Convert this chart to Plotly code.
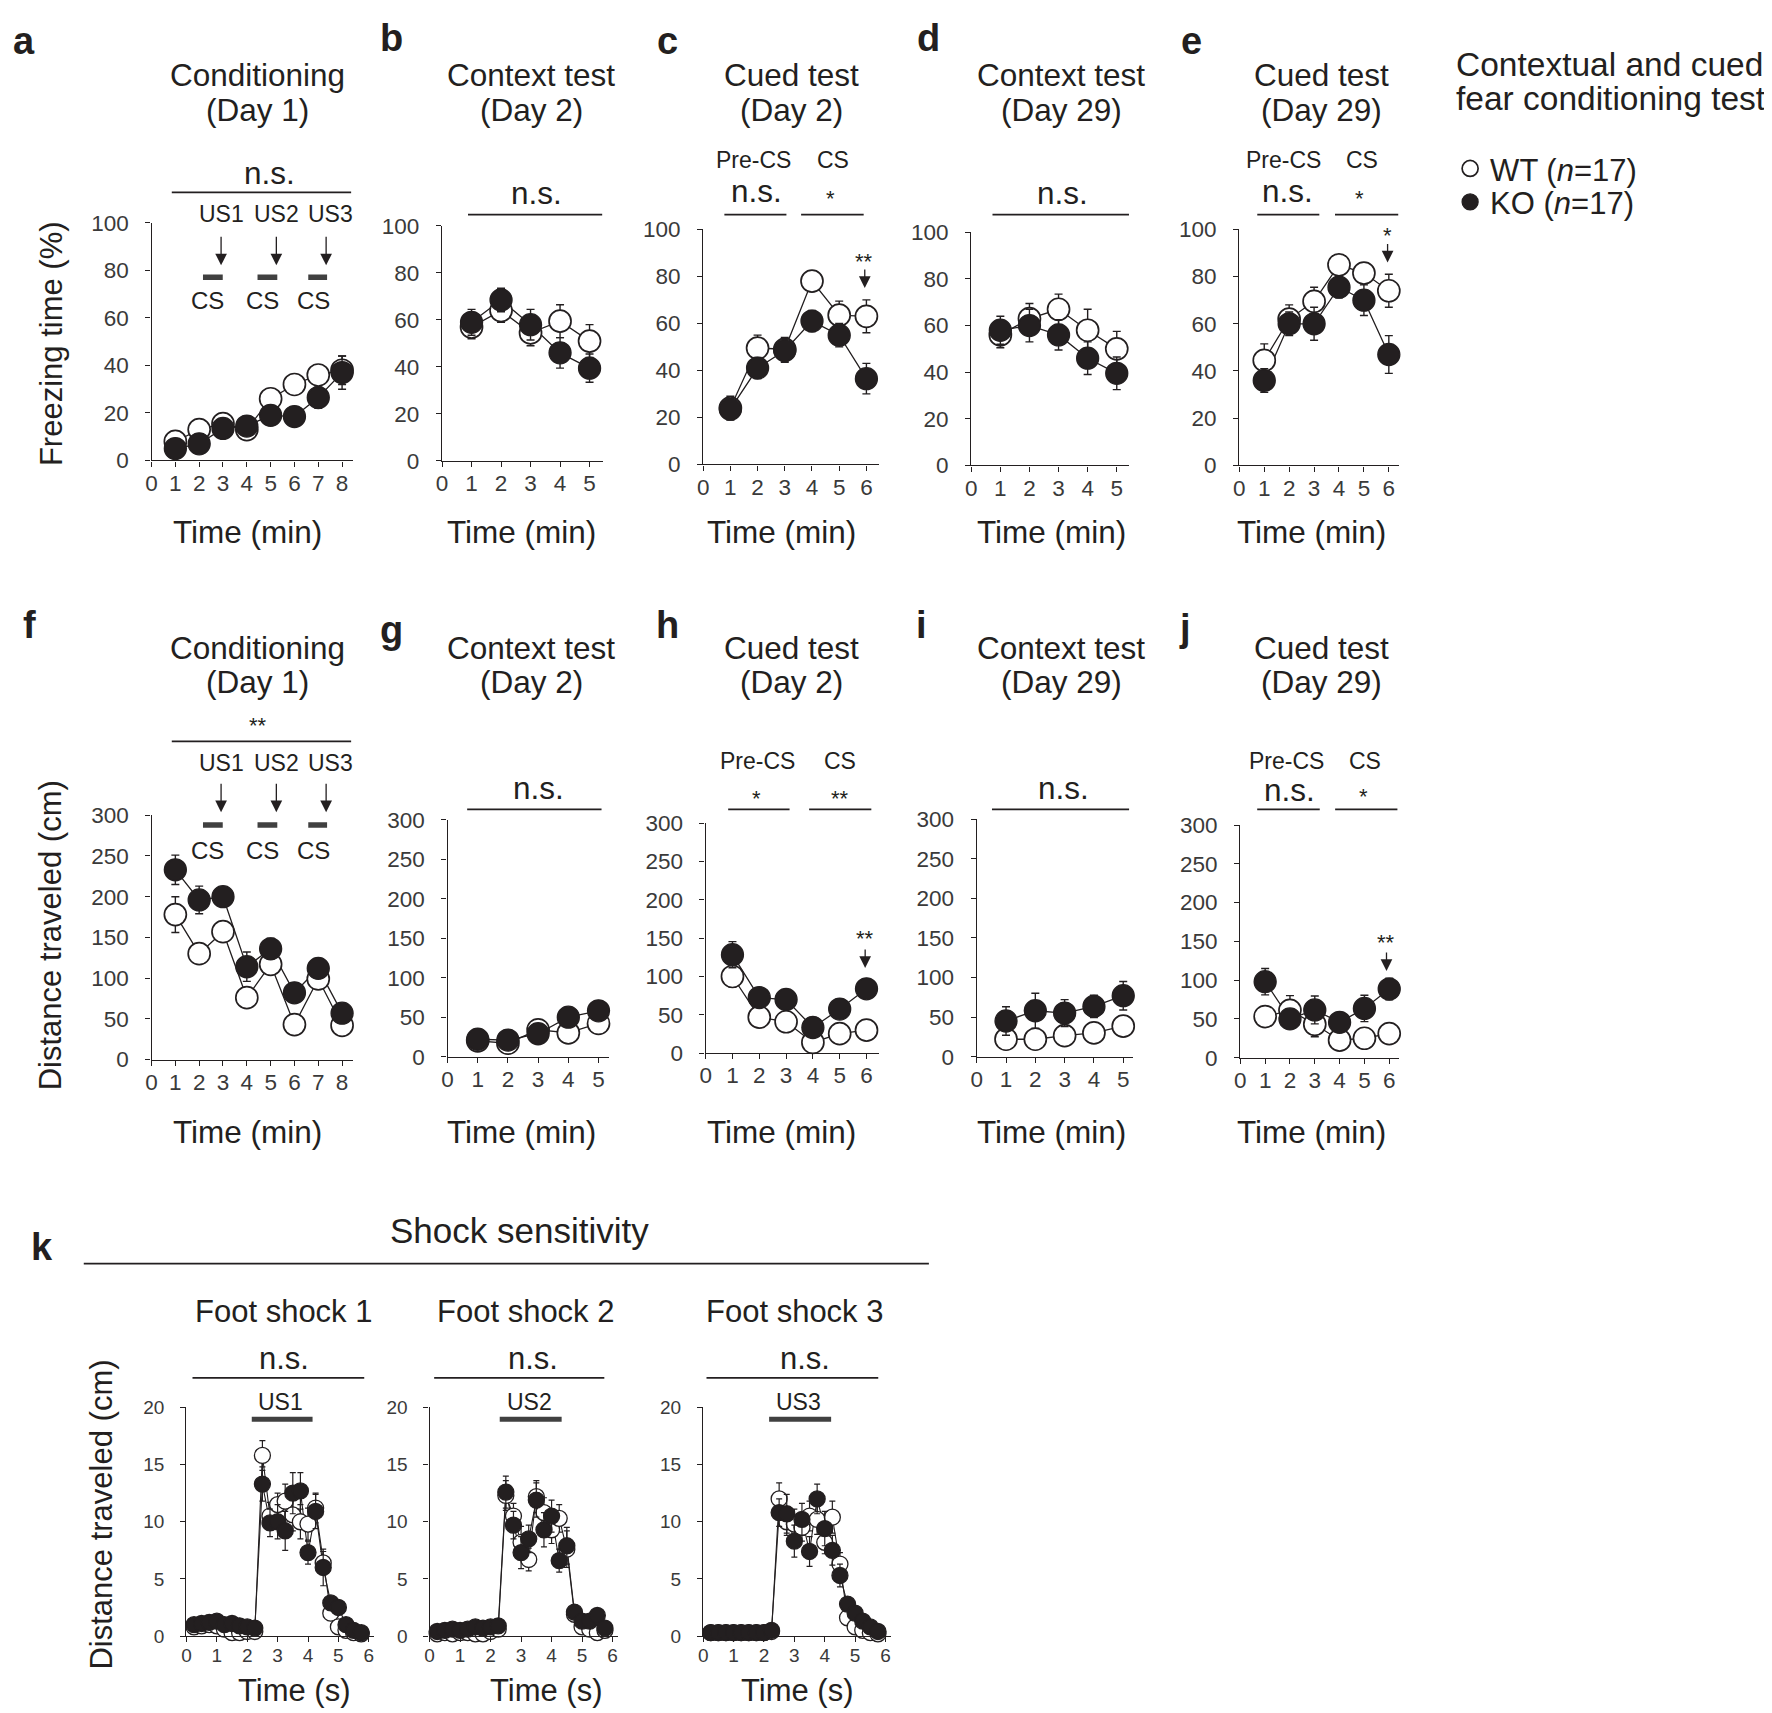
import plotly.graph_objects as go

W, H = 1772, 1713
INK = "#231f20"
TICK_INK = "#3a3a3a"
FONT = "Liberation Sans, Arial, Helvetica, sans-serif"

# ---------------- data ----------------
min_8 = [1, 2, 3, 4, 5, 6, 7, 8]
min_5 = [1, 2, 3, 4, 5]
min_6 = [1, 2, 3, 4, 5, 6]
sec_bins = [0.25, 0.5, 0.75, 1.0, 1.25, 1.5, 1.75, 2.0, 2.25, 2.5, 2.75, 3.0,
            3.25, 3.5, 3.75, 4.0, 4.25, 4.5, 4.75, 5.0, 5.25, 5.5, 5.75]

# a  Freezing, conditioning (Day 1)
frz_cond_wt = [8, 13, 15.5, 13, 26, 32, 36, 38]
frz_cond_wt_sem = [3, 2, 2, 2, 2.5, 3.5, 4, 6]
frz_cond_ko = [5, 7, 13.5, 14.5, 19, 18.5, 26.5, 37]
frz_cond_ko_sem = [2, 2, 2.5, 3.5, 2, 2, 4.5, 7]
# b  Freezing, context test (Day 2)
frz_ctx2_wt = [57, 64, 54.5, 59.5, 51]
frz_ctx2_wt_sem = [5, 5, 5.5, 7, 7]
frz_ctx2_ko = [59, 68.5, 58, 46, 39.5]
frz_ctx2_ko_sem = [5.5, 5, 6.5, 6.5, 6]
# c  Freezing, cued test (Day 2)
frz_cue2_wt = [24, 49.5, 49, 78, 63.5, 63]
frz_cue2_wt_sem = [5, 5.5, 5, 4, 6, 7]
frz_cue2_ko = [23.5, 41, 48.5, 61, 55, 36.5]
frz_cue2_ko_sem = [4.5, 4.5, 5, 4.5, 5, 6.5]
# d  Freezing, context test (Day 29)
frz_ctx29_wt = [56, 63, 67, 58, 50]
frz_ctx29_wt_sem = [5.5, 6.5, 6.5, 9, 7.5]
frz_ctx29_ko = [58, 60, 56, 46, 39.5]
frz_ctx29_ko_sem = [6, 7, 6.5, 7, 7]
# e  Freezing, cued test (Day 29)
frz_cue29_wt = [44.5, 62, 69.5, 85, 81.5, 74]
frz_cue29_wt_sem = [7, 6, 6, 3, 3.5, 7]
frz_cue29_ko = [36, 60, 60, 75.5, 70, 47]
frz_cue29_ko_sem = [5, 5, 7, 4.5, 6.5, 8]
# f  Distance, conditioning (Day 1)
dst_cond_wt = [178, 130, 157, 76, 117, 43, 99, 42]
dst_cond_wt_sem = [22, 11, 8, 6, 8, 5, 7, 5]
dst_cond_ko = [233, 196, 200, 114, 136, 82, 112, 57]
dst_cond_ko_sem = [18, 17, 8, 18, 13, 10, 7, 7]
# g  Distance, context test (Day 2)
dst_ctx2_wt = [20, 17, 34, 30, 42]
dst_ctx2_wt_sem = [4, 3, 5, 6, 7]
dst_ctx2_ko = [22, 21, 29, 50, 58]
dst_ctx2_ko_sem = [4, 4, 4, 8, 8]
# h  Distance, cued test (Day 2)
dst_cue2_wt = [100, 47, 41, 14, 25.5, 30]
dst_cue2_wt_sem = [14, 6, 5, 4, 5, 5]
dst_cue2_ko = [128.5, 72.5, 70, 33.5, 57.5, 84]
dst_cue2_ko_sem = [17, 8, 7, 6, 7, 11]
# i  Distance, context test (Day 29)
dst_ctx29_wt = [22, 22, 26.5, 30, 38.5]
dst_ctx29_wt_sem = [5, 5, 6, 6, 12]
dst_ctx29_ko = [45, 58, 55, 63.5, 77]
dst_ctx29_ko_sem = [18, 22, 17, 14, 18]
# j  Distance, cued test (Day 29)
dst_cue29_wt = [53, 61, 43, 22.5, 25, 31]
dst_cue29_wt_sem = [10, 19, 16, 7, 13, 5]
dst_cue29_ko = [98, 50, 61.5, 45.5, 63.5, 88.5]
dst_cue29_ko_sem = [17, 6, 18, 8, 17, 14]
# k  Shock sensitivity (distance per bin, cm)
shock1_wt = [0.8, 0.9, 1.0, 0.9, 0.6, 0.3, 0.3, 0.4, 0.4,
             15.8, 10.5, 11.5, 11.8, 10.6, 10.0, 9.8, 11.2, 6.4, 2.0, 0.8, 0.5, 0.3, 0.2]
shock1_wt_sem = [0.2, 0.2, 0.2, 0.2, 0.2, 0.2, 0.2, 0.2, 0.2,
                 1.3, 1.2, 1.0, 1.5, 1.4, 1.5, 1.4, 1.3, 1.0, 0.5, 0.3, 0.2, 0.2, 0.1]
shock1_ko = [1.0, 1.1, 1.2, 1.3, 1.0, 1.1, 0.9, 0.8, 0.7,
             13.3, 9.9, 10.0, 9.2, 12.5, 12.7, 7.3, 10.9, 6.0, 2.9, 2.5, 1.0, 0.5, 0.3]
shock1_ko_sem = [0.2, 0.2, 0.2, 0.2, 0.2, 0.2, 0.2, 0.2, 0.2,
                 1.5, 1.2, 1.5, 1.7, 1.8, 1.6, 1.0, 1.5, 1.6, 0.4, 0.4, 0.3, 0.2, 0.1]
shock2_wt = [0.2, 0.3, 0.2, 0.3, 0.3, 0.2, 0.2, 0.4, 0.6,
             12.3, 10.5, 8.2, 6.7, 12.2, 10.8, 9.3, 10.3, 7.6, 1.9, 0.8, 0.6, 0.3, 0.5]
shock2_wt_sem = [0.1, 0.1, 0.1, 0.1, 0.1, 0.1, 0.1, 0.1, 0.2,
                 1.3, 1.1, 1.4, 1.0, 1.4, 1.3, 1.2, 1.2, 1.6, 0.4, 0.3, 0.2, 0.1, 0.2]
shock2_ko = [0.4, 0.5, 0.6, 0.5, 0.6, 0.8, 0.7, 0.8, 0.9,
             12.6, 9.7, 7.3, 8.5, 11.9, 9.3, 10.5, 6.6, 7.9, 2.1, 1.3, 1.3, 1.8, 0.7]
shock2_ko_sem = [0.1, 0.1, 0.1, 0.1, 0.1, 0.1, 0.1, 0.2, 0.2,
                 1.4, 1.2, 1.4, 1.2, 1.5, 1.5, 1.4, 1.0, 1.6, 0.4, 0.3, 0.3, 0.4, 0.2]
shock3_wt = [0.3, 0.3, 0.3, 0.3, 0.3, 0.3, 0.3, 0.3, 0.4,
             12.0, 10.0, 9.8, 9.5, 10.5, 10.2, 8.2, 10.4, 6.3, 1.6, 0.8, 0.5, 0.3, 0.2]
shock3_wt_sem = [0.1, 0.1, 0.1, 0.1, 0.1, 0.1, 0.1, 0.1, 0.1,
                 1.4, 1.2, 1.3, 1.2, 1.3, 1.3, 1.0, 1.4, 1.0, 0.4, 0.3, 0.2, 0.1, 0.1]
shock3_ko = [0.3, 0.3, 0.3, 0.3, 0.3, 0.3, 0.3, 0.3, 0.5,
             10.8, 10.7, 8.3, 10.2, 7.4, 12.0, 9.4, 7.5, 5.3, 2.8, 2.0, 1.3, 0.8, 0.4]
shock3_ko_sem = [0.1, 0.1, 0.1, 0.1, 0.1, 0.1, 0.1, 0.1, 0.1,
                 1.2, 1.7, 1.4, 1.4, 1.3, 1.3, 1.5, 1.3, 1.0, 0.4, 0.3, 0.2, 0.2, 0.1]

# ---------------- panel layout (pixel geometry) ----------------
panels = [
    dict(x=min_8, wt=frz_cond_wt, wts=frz_cond_wt_sem, ko=frz_cond_ko, kos=frz_cond_ko_sem,
         x0=138, unit=23.9, xend=8.45, ybot=447, ytop=206, ymax=100, dy=20, nt=8, ms=22),
    dict(x=min_5, wt=frz_ctx2_wt, wts=frz_ctx2_wt_sem, ko=frz_ctx2_ko, kos=frz_ctx2_ko_sem,
         x0=429.5, unit=29.6, xend=5.45, ybot=447.5, ytop=209, ymax=100, dy=20, nt=5, ms=22),
    dict(x=min_6, wt=frz_cue2_wt, wts=frz_cue2_wt_sem, ko=frz_cue2_ko, kos=frz_cue2_ko_sem,
         x0=691.5, unit=27.3, xend=6.45, ybot=451, ytop=212.5, ymax=100, dy=20, nt=6, ms=22),
    dict(x=min_5, wt=frz_ctx29_wt, wts=frz_ctx29_wt_sem, ko=frz_ctx29_ko, kos=frz_ctx29_ko_sem,
         x0=960.5, unit=29.2, xend=5.43, ybot=452, ytop=215.5, ymax=100, dy=20, nt=5, ms=22),
    dict(x=min_6, wt=frz_cue29_wt, wts=frz_cue29_wt_sem, ko=frz_cue29_ko, kos=frz_cue29_ko_sem,
         x0=1229.5, unit=25.0, xend=6.4, ybot=452, ytop=212.5, ymax=100, dy=20, nt=6, ms=22),
    dict(x=min_8, wt=dst_cond_wt, wts=dst_cond_wt_sem, ko=dst_cond_ko, kos=dst_cond_ko_sem,
         x0=138, unit=23.9, xend=8.45, ybot=1055, ytop=807, ymax=300, dy=50, nt=8, ms=22),
    dict(x=min_5, wt=dst_ctx2_wt, wts=dst_ctx2_wt_sem, ko=dst_ctx2_ko, kos=dst_ctx2_ko_sem,
         x0=435, unit=30.3, xend=5.35, ybot=1052, ytop=811.5, ymax=300, dy=50, nt=5, ms=22),
    dict(x=min_6, wt=dst_cue2_wt, wts=dst_cue2_wt_sem, ko=dst_cue2_ko, kos=dst_cue2_ko_sem,
         x0=694, unit=26.9, xend=6.45, ybot=1048.5, ytop=815, ymax=300, dy=50, nt=6, ms=22),
    dict(x=min_5, wt=dst_ctx29_wt, wts=dst_ctx29_wt_sem, ko=dst_ctx29_ko, kos=dst_ctx29_ko_sem,
         x0=966, unit=29.4, xend=5.35, ybot=1052, ytop=811, ymax=300, dy=50, nt=5, ms=22),
    dict(x=min_6, wt=dst_cue29_wt, wts=dst_cue29_wt_sem, ko=dst_cue29_ko, kos=dst_cue29_ko_sem,
         x0=1230.5, unit=24.9, xend=6.4, ybot=1053, ytop=817, ymax=300, dy=50, nt=6, ms=22),
    dict(x=sec_bins, wt=shock1_wt, wts=shock1_wt_sem, ko=shock1_ko, kos=shock1_ko_sem,
         x0=173, unit=30.5, xend=6.18, ybot=1640, ytop=1408, ymax=20, dy=5, nt=6, ms=16),
    dict(x=sec_bins, wt=shock2_wt, wts=shock2_wt_sem, ko=shock2_ko, kos=shock2_ko_sem,
         x0=417, unit=30.6, xend=6.18, ybot=1640, ytop=1408, ymax=20, dy=5, nt=6, ms=16),
    dict(x=sec_bins, wt=shock3_wt, wts=shock3_wt_sem, ko=shock3_ko, kos=shock3_ko_sem,
         x0=691.5, unit=30.5, xend=6.18, ybot=1640, ytop=1408, ymax=20, dy=5, nt=6, ms=16),
]

fig = go.Figure()
layout_axes = {}
line_traces, marker_traces = [], []

for i, p in enumerate(panels, start=1):
    xa = "x" if i == 1 else f"x{i}"
    ya = "y" if i == 1 else f"y{i}"
    small = p["ms"] < 18
    for series in (p["wt"], p["ko"]):
        line_traces.append(go.Scatter(
            x=p["x"], y=series, mode="lines", xaxis=xa, yaxis=ya,
            line=dict(color=INK, width=1.3 if not small else 1.1),
            showlegend=False, hoverinfo="skip", cliponaxis=False))
    marker_traces.append(go.Scatter(
        x=p["x"], y=p["wt"], mode="markers", xaxis=xa, yaxis=ya,
        name="WT (<i>n</i>=17)", legend="legend", showlegend=(i == 1),
        marker=dict(symbol="circle", size=p["ms"], color="white",
                    line=dict(color=INK, width=1.7 if not small else 1.3)),
        error_y=dict(type="data", array=p["wts"], color=INK,
                     thickness=1.4 if not small else 1.2, width=4 if not small else 3),
        cliponaxis=False))
    marker_traces.append(go.Scatter(
        x=p["x"], y=p["ko"], mode="markers", xaxis=xa, yaxis=ya,
        name="KO (<i>n</i>=17)", legend="legend2", showlegend=(i == 1),
        marker=dict(symbol="circle", size=p["ms"], color=INK,
                    line=dict(color=INK, width=1.3)),
        error_y=dict(type="data", array=p["kos"], color=INK,
                     thickness=1.4 if not small else 1.2, width=4 if not small else 3),
        cliponaxis=False))

    common = dict(showline=True, linecolor=INK, linewidth=1.4, ticks="outside",
                  ticklen=5, tickwidth=1.3, tickcolor=INK, showgrid=False,
                  zeroline=False, fixedrange=True,
                  tickfont=dict(family=FONT, size=22.5 if not small else 19, color=TICK_INK))
    xkey = "xaxis" if i == 1 else f"xaxis{i}"
    ykey = "yaxis" if i == 1 else f"yaxis{i}"
    layout_axes[xkey] = dict(
        common, range=[0, p["xend"]], tickmode="array",
        tickvals=list(range(0, p["nt"] + 1)),
        domain=[p["x0"] / W, (p["x0"] + p["xend"] * p["unit"]) / W],
        anchor=ya, ticklabelstandoff=-3)
    layout_axes[ykey] = dict(
        common, range=[0, p["ymax"]], dtick=p["dy"], tick0=0,
        domain=[1 - p["ybot"] / H, 1 - p["ytop"] / H],
        anchor=xa, ticklabelstandoff=12)

for t in line_traces + marker_traces:
    fig.add_trace(t)

# ---------------- annotations ----------------
ann, shapes = [], []


def text(s, x, y, size, xref="paper", bold=False, xanchor="center", angle=0, color=INK):
    ann.append(dict(text=f"<b>{s}</b>" if bold else s,
                    x=(x / W) if xref == "paper" else x, y=1 - y / H,
                    xref=xref, yref="paper", showarrow=False,
                    font=dict(family=FONT, size=size, color=color),
                    xanchor=xanchor, yanchor="middle", textangle=angle))


def hline(x0, x1, y, xref="paper", width=1.8, color=INK):
    if xref == "paper":
        x0, x1 = x0 / W, x1 / W
    shapes.append(dict(type="line", xref=xref, yref="paper", x0=x0, x1=x1,
                       y0=1 - y / H, y1=1 - y / H, line=dict(color=color, width=width)))


def arrow(x, ytip, length, xref):
    ann.append(dict(text="", x=x, y=1 - ytip / H, xref=xref, yref="paper",
                    showarrow=True, ax=0, ay=-length, arrowhead=2, arrowsize=1.8,
                    arrowwidth=1.3, arrowcolor=INK, standoff=0))


TS = 31.5  # title size

# panel letters
for s, x, y in [("a", 10, 21), ("b", 379, 18), ("c", 656, 21), ("d", 918, 18), ("e", 1181, 21),
                ("f", 16, 614), ("g", 379, 619), ("h", 656, 614), ("i", 911, 614), ("j", 1175, 617),
                ("k", 28, 1245)]:
    text(s, x, y, 38, bold=True)

# panel titles
row_titles = [("Conditioning", "(Day 1)", 244), ("Context test", "(Day 2)", 519),
              ("Cued test", "(Day 2)", 780), ("Context test", "(Day 29)", 1051),
              ("Cued test", "(Day 29)", 1312)]
for (l1, l2, xc) in row_titles:
    for y1, y2 in ((56, 91), (637, 672)):
        text(l1, xc, y1, TS)
        text(l2, xc, y2, TS)
    text("Time (min)", xc - 10, 520, TS)
    text("Time (min)", xc - 10, 1128, TS)

text("Freezing time (%)", 37, 328, 31, angle=-90)
text("Distance traveled (cm)", 37, 929, 31, angle=-90)
text("Distance traveled (cm)", 88, 1517, 31, angle=-90)

# legend title
text("Contextual and cued", 1445, 45, 33.5, xanchor="left")
text("fear conditioning test", 1445, 80, 33.5, xanchor="left")

# panel a / f : conditioning schedule
for xr, stat, stat_y, stat_size, br_y, us_y, tip_y, bar_y, cs_y in (
        ("x", "n.s.", 155, TS, 175, 197, 249, 261, 285),
        ("x6", "**", 716, 22, 732, 754, 804, 817, 843)):
    text(stat, 4.95 if stat == "n.s." else 4.45, stat_y, stat_size, xref=xr)
    hline(0.85, 8.38, br_y, xref=xr)
    for lab, xu, xa_ in (("US1", 2.92, 2.92), ("US2", 5.24, 5.24), ("US3", 7.5, 7.33)):
        text(lab, xu, us_y, 23, xref=xr)
        arrow(xa_, tip_y, 30, xr)
    for (b0, b1), xc in (((2.16, 2.99), 2.36), ((4.45, 5.28), 4.66), ((6.58, 7.37), 6.78)):
        hline(b0, b1, bar_y, xref=xr, width=5.5, color="#404040")
        text("CS", xc, cs_y, 24, xref=xr)

# context panels (single n.s. bracket)
for xr, xs, y_txt, y_br, (b0, b1) in (("x2", 3.2, 176, 197.5, (0.88, 5.43)),
                                      ("x4", 3.13, 176, 197.5, (0.73, 5.42)),
                                      ("x7", 3.0, 779, 801, (0.65, 5.1)),
                                      ("x9", 2.95, 779, 801, (0.52, 5.2))):
    text("n.s.", xs, y_txt, TS, xref=xr)
    hline(b0, b1, y_br, xref=xr)

# cued panels (Pre-CS / CS brackets)
cued = [
    ("x3", 1.85, 4.76, 142, "n.s.", 1.95, "*", 4.68, 174, 197.5, (0.78, 3.06), (3.6, 5.9), "**", 5.92, 245, 272),
    ("x5", 1.76, 4.93, 142, "n.s.", 1.95, "*", 4.84, 174, 197.5, (0.72, 3.21), (3.84, 6.38), "*", 5.93, 219, 246),
    ("x8", 1.93, 5.0, 752, "*", 1.88, "**", 5.02, 783, 801, (0.84, 3.13), (3.86, 6.18), "**", 5.93, 932, 962),
    ("x10", 1.87, 5.04, 752, "n.s.", 1.98, "*", 4.96, 781, 801, (0.68, 3.2), (3.82, 6.33), "**", 5.87, 936, 965),
]
for (xr, px_, cx_, ly, ps, px2, cs, cx2, sy, by, pbr, cbr, st, stx, sty, tip) in cued:
    text("Pre-CS", px_, ly, 23, xref=xr)
    text("CS", cx_, ly, 23, xref=xr)
    for s, xx in ((ps, px2), (cs, cx2)):
        if s == "n.s.":
            text(s, xx, sy, TS, xref=xr)
        else:
            text(s, xx, sy + 7, 22, xref=xr)
    hline(pbr[0], pbr[1], by, xref=xr)
    hline(cbr[0], cbr[1], by, xref=xr)
    text(st, stx, sty, 22, xref=xr)
    arrow(stx + 0.02, tip, 20, xr)

# shock sensitivity
text("Shock sensitivity", 507, 1228, 35)
hline(70, 918, 1262, width=1.8)
for xr, title, tx, nsx, (b0, b1), us, usx, (u0, u1), tmx in (
        ("x11", "Foot shock 1", 3.2, 3.2, (0.2, 5.85), "US1", 3.1, (2.15, 4.15), 281),
        ("x12", "Foot shock 2", 3.14, 3.38, (0.15, 5.73), "US2", 3.26, (2.3, 4.33), 534),
        ("x13", "Foot shock 3", 3.0, 3.36, (0.11, 5.76), "US3", 3.14, (2.17, 4.21), 786)):
    text(title, tx, 1311, 31, xref=xr)
    text("n.s.", nsx, 1358, 31, xref=xr)
    hline(b0, b1, 1378, xref=xr)
    text(us, usx, 1402, 23, xref=xr)
    hline(u0, u1, 1420, xref=xr, width=5, color="#404040")
    text("Time (s)", tmx, 1695, 31)

leg_common = dict(xanchor="left", yanchor="middle",
                  font=dict(family=FONT, size=31, color=INK), bgcolor="rgba(0,0,0,0)",
                  itemsizing="trace", itemclick=False, itemdoubleclick=False)

fig.update_layout(
    width=W, height=H, margin=dict(l=0, r=0, t=0, b=0),
    paper_bgcolor="white", plot_bgcolor="white",
    font=dict(family=FONT, color=INK),
    annotations=ann, shapes=shapes,
    showlegend=True,
    legend=dict(leg_common, x=1441 / W, y=1 - 151 / H),
    legend2=dict(leg_common, x=1441 / W, y=1 - 185 / H),
    **layout_axes,
)

fig.write_html("out.html")
